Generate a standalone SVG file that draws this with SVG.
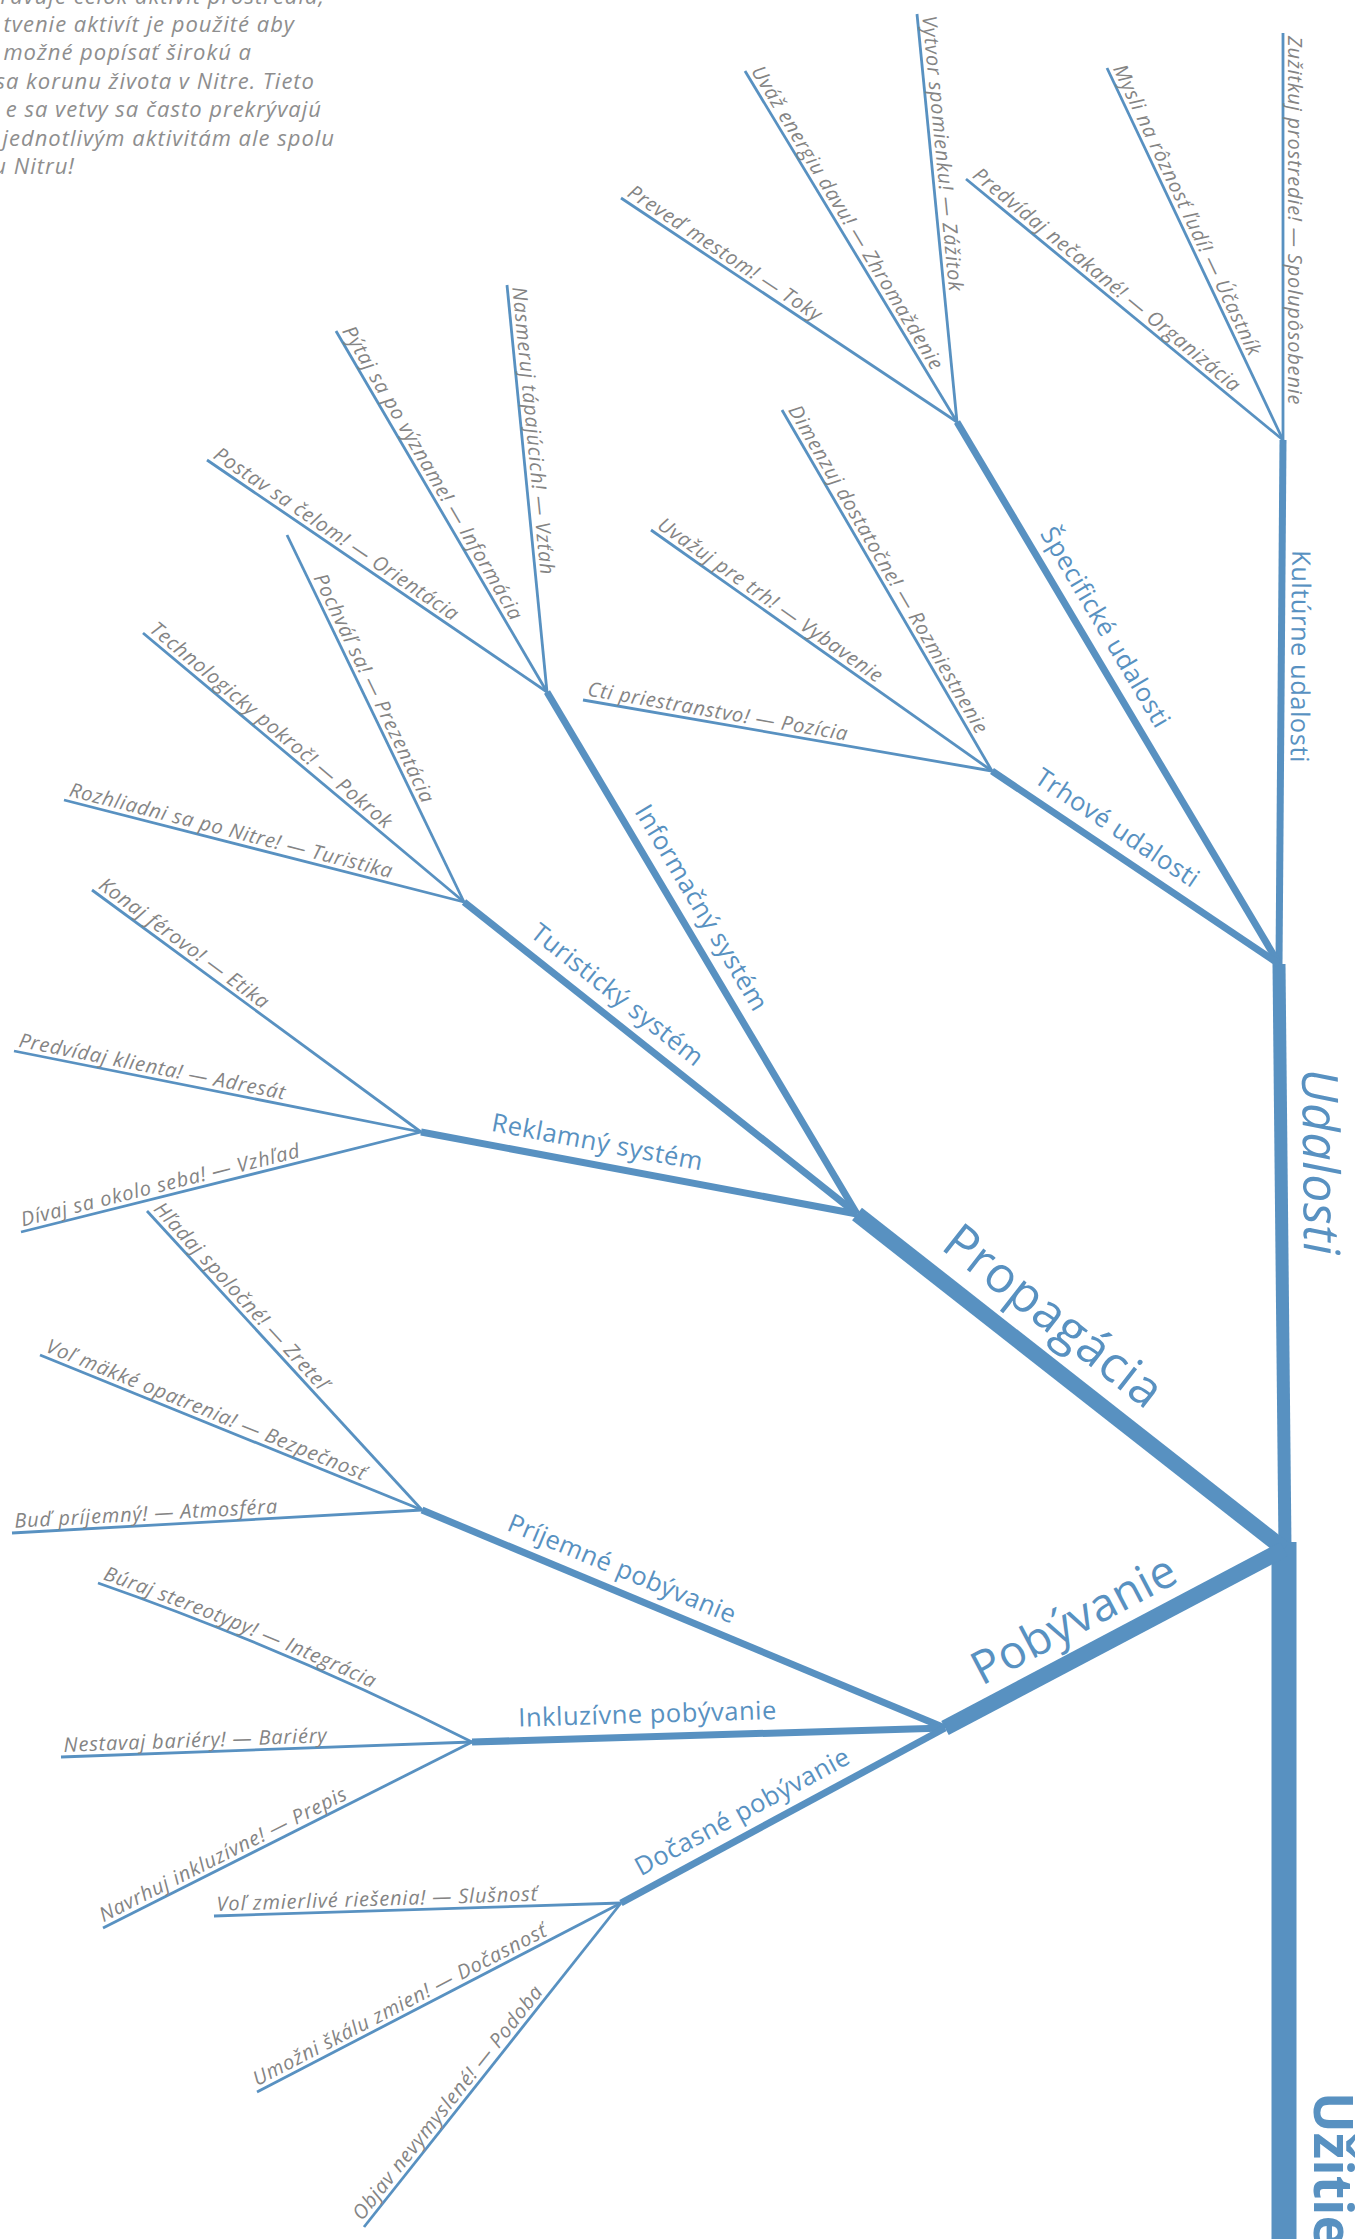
<svg xmlns="http://www.w3.org/2000/svg" width="1365" height="2239" viewBox="0 0 1365 2239">
<style>
.ln{fill:none;stroke:#5891c1;stroke-linecap:butt;stroke-linejoin:round}
.leaf{stroke-width:2.8}
.br{stroke-width:7}
.lt{font-family:"Open Sans","Liberation Sans",sans-serif;font-style:italic;font-weight:400;font-size:20px;letter-spacing:0.8px;fill:#848484}
.bt{font-family:"Open Sans","Liberation Sans",sans-serif;font-weight:500;font-size:25.5px;letter-spacing:0.5px;fill:#5891c1}
.big{font-size:50px;font-weight:400;letter-spacing:0.5px}
.intro{font-family:"Open Sans","Liberation Sans",sans-serif;font-style:italic;font-weight:400;font-size:22px;letter-spacing:1px;fill:#8e8e8e;text-anchor:end}
</style>
<rect width="1365" height="2239" fill="#ffffff"/>

<g id="intro">
<text class="intro" x="325" y="4">ravuje celok aktivít prostredia,</text>
<text class="intro" x="295" y="32">tvenie aktivít je použité aby</text>
<text class="intro" x="252" y="60">možné popísať širokú a</text>
<text class="intro" x="315" y="89">sa korunu života v Nitre. Tieto</text>
<text class="intro" x="322" y="117">e sa vetvy sa často prekrývajú</text>
<text class="intro" x="335" y="146">jednotlivým aktivitám ale spolu</text>
<text class="intro" x="75" y="174">u Nitru!</text>
</g>

<g id="connectors">
<path id="trunk" class="ln" stroke-width="25" d="M1284,1542 L1284,2239"/>
<path id="mUdal" class="ln" stroke-width="13" d="M1279,964 L1285,1549"/>
<path id="mProp" class="ln" stroke-width="16" d="M857,1214 L1284,1549"/>
<path id="mPob" class="ln" stroke-width="16" d="M945,1728 L1284,1549"/>
<path id="bKult" class="ln br" d="M1283,440 L1279,964"/>
<path id="bSpec" class="ln br" d="M957,422 L1279,964"/>
<path id="bTrh" class="ln br" d="M992,771 L1279,964"/>
<path id="bInfo" class="ln br" d="M547,692 L857,1214"/>
<path id="bTur" class="ln br" d="M464,902 L857,1214"/>
<path id="bRek" class="ln br" d="M421,1132 L857,1214"/>
<path id="bPrij" class="ln br" d="M422,1510 L945,1728"/>
<path id="bInk" class="ln br" d="M472,1742 L945,1728"/>
<path id="bDoc" class="ln br" d="M621,1903 L945,1728"/>

<path id="k1" class="ln leaf" d="M1283,33 L1283,440"/>
<path id="k2" class="ln leaf" d="M1107,68 L1283,440"/>
<path id="k3" class="ln leaf" d="M966,179 L1283,440"/>
<path id="s1" class="ln leaf" d="M917,14 L957,422"/>
<path id="s2" class="ln leaf" d="M745,71 L957,422"/>
<path id="s3" class="ln leaf" d="M621,198 L957,422"/>
<path id="t1" class="ln leaf" d="M782,410 L992,771"/>
<path id="t2" class="ln leaf" d="M651,530 L992,771"/>
<path id="t3" class="ln leaf" d="M583,700 L992,771"/>
<path id="i1" class="ln leaf" d="M507,285 L547,692"/>
<path id="i2" class="ln leaf" d="M336,331 L547,692"/>
<path id="i3" class="ln leaf" d="M207,460 L547,692"/>
<path id="r1" class="ln leaf" d="M287,535 L464,902"/>
<path id="r2" class="ln leaf" d="M143,633 L464,902"/>
<path id="r3" class="ln leaf" d="M64,800 L464,902"/>
<path id="m1" class="ln leaf" d="M92,890 L421,1132"/>
<path id="m2" class="ln leaf" d="M14,1051 L421,1132"/>
<path id="m3" class="ln leaf" d="M21,1232 L421,1132"/>
<path id="n1" class="ln leaf" d="M147,1211 L422,1510"/>
<path id="n2" class="ln leaf" d="M40,1355 L422,1510"/>
<path id="n3" class="ln leaf" d="M12,1533 L422,1510"/>
<path id="l1" class="ln leaf" d="M98,1583 Q290,1650 472,1742"/>
<path id="l2" class="ln leaf" d="M61,1757 L472,1742"/>
<path id="l3" class="ln leaf" d="M103,1928 L472,1742"/>
<path id="d1" class="ln leaf" d="M214,1916 L621,1903"/>
<path id="d2" class="ln leaf" d="M257,2092 L621,1903"/>
<path id="d3" class="ln leaf" d="M364,2227 L621,1903"/>
</g>

<g id="n-uzitie"><text class="bt" style="font-size:54px;font-weight:700;letter-spacing:0" dy="-30"><textPath href="#trunk" startOffset="550">Užitie</textPath></text></g>
<g id="n-udalosti"><text class="bt big" style="font-style:italic" dy="-22"><textPath href="#mUdal" startOffset="105">Udalosti</textPath></text></g>
<g id="n-propagacia"><text class="bt big" dy="-24"><textPath href="#mProp" startOffset="86">Propagácia</textPath></text></g>
<g id="n-pobyvanie"><text class="bt big" style="font-size:46px" dy="-20"><textPath href="#mPob" startOffset="52">Pobývanie</textPath></text></g>

<g id="n-kulturne"><text class="bt" dy="-10"><textPath href="#bKult" startOffset="110">Kultúrne udalosti</textPath></text></g>
<g id="n-specificke"><text class="bt" dy="-14"><textPath href="#bSpec" startOffset="138">Špecifické udalosti</textPath></text></g>
<g id="n-trhove"><text class="bt" dy="-14"><textPath href="#bTrh" startOffset="40">Trhové udalosti</textPath></text></g>
<g id="n-informacny"><text class="bt" dy="-14"><textPath href="#bInfo" startOffset="147">Informačný systém</textPath></text></g>
<g id="n-turisticky"><text class="bt" dy="-14"><textPath href="#bTur" startOffset="72">Turistický systém</textPath></text></g>
<g id="n-reklamny"><text class="bt" dy="-14"><textPath href="#bRek" startOffset="68">Reklamný systém</textPath></text></g>
<g id="n-prijemne"><text class="bt" dy="-14"><textPath href="#bPrij" startOffset="85">Príjemné pobývanie</textPath></text></g>
<g id="n-inkluzivne"><text class="bt" dy="-14"><textPath href="#bInk" startOffset="47">Inkluzívne pobývanie</textPath></text></g>
<g id="n-docasne"><text class="bt" dy="-14"><textPath href="#bDoc" startOffset="30">Dočasné pobývanie</textPath></text></g>

<g id="leaf-k1"><text class="lt" dy="-5"><textPath href="#k1" startOffset="3">Zužitkuj prostredie! — Spolupôsobenie</textPath></text></g>
<g id="leaf-k2"><text class="lt" dy="-5"><textPath href="#k2" startOffset="3">Mysli na rôznosť ľudí! — Účastník</textPath></text></g>
<g id="leaf-k3"><text class="lt" dy="-5"><textPath href="#k3" startOffset="3">Predvídaj nečakané! — Organizácia</textPath></text></g>
<g id="leaf-s1"><text class="lt" dy="-5"><textPath href="#s1" startOffset="3">Vytvor spomienku! — Zážitok</textPath></text></g>
<g id="leaf-s2"><text class="lt" dy="-5"><textPath href="#s2" startOffset="3">Uváž energiu davu! — Zhromaždenie</textPath></text></g>
<g id="leaf-s3"><text class="lt" dy="-5"><textPath href="#s3" startOffset="3">Preveď mestom! — Toky</textPath></text></g>
<g id="leaf-t1"><text class="lt" dy="-5"><textPath href="#t1" startOffset="3">Dimenzuj dostatočne! — Rozmiestnenie</textPath></text></g>
<g id="leaf-t2"><text class="lt" dy="-5"><textPath href="#t2" startOffset="3">Uvažuj pre trh! — Vybavenie</textPath></text></g>
<g id="leaf-t3"><text class="lt" dy="-5"><textPath href="#t3" startOffset="3">Cti priestranstvo! — Pozícia</textPath></text></g>
<g id="leaf-i1"><text class="lt" dy="-5"><textPath href="#i1" startOffset="3">Nasmeruj tápajúcich! — Vzťah</textPath></text></g>
<g id="leaf-i2"><text class="lt" dy="-5"><textPath href="#i2" startOffset="3">Pýtaj sa po význame! — Informácia</textPath></text></g>
<g id="leaf-i3"><text class="lt" dy="-5"><textPath href="#i3" startOffset="3">Postav sa čelom! — Orientácia</textPath></text></g>
<g id="leaf-r1"><text class="lt" dy="-5"><textPath href="#r1" startOffset="50">Pochváľ sa! — Prezentácia</textPath></text></g>
<g id="leaf-r2"><text class="lt" dy="-5"><textPath href="#r2" startOffset="3">Technologicky pokroč! — Pokrok</textPath></text></g>
<g id="leaf-r3"><text class="lt" dy="-5"><textPath href="#r3" startOffset="3">Rozhliadni sa po Nitre! — Turistika</textPath></text></g>
<g id="leaf-m1"><text class="lt" dy="-5"><textPath href="#m1" startOffset="3">Konaj férovo! — Etika</textPath></text></g>
<g id="leaf-m2"><text class="lt" dy="-5"><textPath href="#m2" startOffset="3">Predvídaj klienta! — Adresát</textPath></text></g>
<g id="leaf-m3"><text class="lt" dy="-5"><textPath href="#m3" startOffset="3">Dívaj sa okolo seba! — Vzhľad</textPath></text></g>
<g id="leaf-n1"><text class="lt" dy="-5"><textPath href="#n1" startOffset="3">Hľadaj spoločné! — Zreteľ</textPath></text></g>
<g id="leaf-n2"><text class="lt" dy="-5"><textPath href="#n2" startOffset="3">Voľ mäkké opatrenia! — Bezpečnosť</textPath></text></g>
<g id="leaf-n3"><text class="lt" dy="-5"><textPath href="#n3" startOffset="3">Buď príjemný! — Atmosféra</textPath></text></g>
<g id="leaf-l1"><text class="lt" dy="-5"><textPath href="#l1" startOffset="3">Búraj stereotypy! — Integrácia</textPath></text></g>
<g id="leaf-l2"><text class="lt" dy="-5"><textPath href="#l2" startOffset="3">Nestavaj bariéry! — Bariéry</textPath></text></g>
<g id="leaf-l3"><text class="lt" dy="-5"><textPath href="#l3" startOffset="3">Navrhuj inkluzívne! — Prepis</textPath></text></g>
<g id="leaf-d1"><text class="lt" dy="-5"><textPath href="#d1" startOffset="3">Voľ zmierlivé riešenia! — Slušnosť</textPath></text></g>
<g id="leaf-d2"><text class="lt" dy="-5"><textPath href="#d2" startOffset="3">Umožni škálu zmien! — Dočasnosť</textPath></text></g>
<g id="leaf-d3"><text class="lt" dy="-5"><textPath href="#d3" startOffset="3">Objav nevymyslené! — Podoba</textPath></text></g>
</svg>
